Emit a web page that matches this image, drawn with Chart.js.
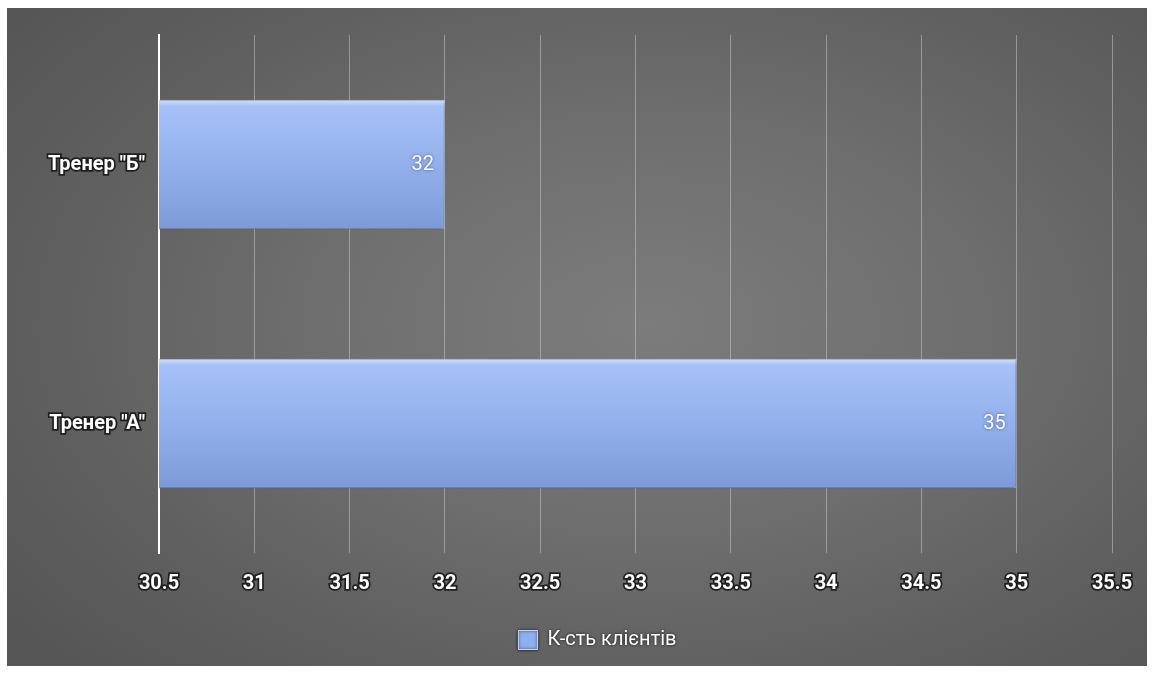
<!DOCTYPE html>
<html>
<head>
<meta charset="utf-8">
<script src="https://cdn.jsdelivr.net/npm/chart.js@4"></script>
<style>
html,body{margin:0;background:#fff;}
#wrap{position:absolute;left:7px;top:8px;width:1140px;height:658px;
  background:radial-gradient(ellipse 70% 75% at 56% 48%, #7c7c7c 0%, #6f6f6f 40%, #5f5f5f 75%, #565656 100%);}
</style>
</head>
<body>
<div id="wrap"><canvas id="c"></canvas></div>
<script>
const categories = ['Тренер "Б"', 'Тренер "А"'];
const clients = [32, 35];
const seriesName = 'К-сть клієнтів';
const xMin = 30.5, xMax = 35.5, xStep = 0.5;

const FONT = 'Roboto, "Open Sans", sans-serif';

function barFill(c){
  const chart = c.chart, y = chart.scales.y, area = chart.chartArea;
  if(!area || !y) return '#98b4ee';
  const h = (area.bottom - area.top) / categories.length * 0.5;
  const cy = y.getPixelForValue(c.dataIndex);
  const g = chart.ctx.createLinearGradient(0, cy - h/2, 0, cy + h/2);
  g.addColorStop(0, '#cfe0ff');
  g.addColorStop(0.05, '#a6c1f8');
  g.addColorStop(0.5, '#93b0ec');
  g.addColorStop(1, '#7c9bd6');
  return g;
}

// shadow under bars + value labels inside bar ends
const barDecor = {
  id: 'barDecor',
  afterLayout(chart){
    // legend sits a bit right of centre in the original
    const lg = chart.legend;
    if(lg){ lg.left += 38; lg.right += 38; }
  },
  beforeDatasetsDraw(chart){
    const ctx = chart.ctx;
    ctx.save();
    ctx.shadowColor = 'rgba(0,0,0,0.55)';
    ctx.shadowBlur = 6;
    ctx.shadowOffsetY = 2;
  },
  afterDatasetsDraw(chart){
    const ctx = chart.ctx;
    ctx.restore();
    const meta = chart.getDatasetMeta(0);
    ctx.save();
    ctx.font = '20px ' + FONT;
    ctx.fillStyle = '#ffffff';
    ctx.textAlign = 'right';
    ctx.textBaseline = 'middle';
    ctx.shadowColor = 'rgba(40,60,120,0.8)';
    ctx.shadowBlur = 3;
    meta.data.forEach((el, i) => {
      ctx.fillText(String(clients[i]), el.x - 11, el.y);
    });
    ctx.restore();
  },
  beforeDraw(chart){
    const lg = chart.legend;
    if(lg && !lg._shadowed){
      const orig = lg.draw.bind(lg);
      lg.draw = function(){
        const ctx = chart.ctx;
        ctx.save();
        ctx.shadowColor = 'rgba(0,0,0,0.9)';
        ctx.shadowBlur = 3;
        orig();
        ctx.restore();
      };
      lg._shadowed = true;
    }
  }
};

new Chart(document.getElementById('c'), {
  type: 'bar',
  data: {
    labels: categories,
    datasets: [{
      label: seriesName,
      data: clients,
      backgroundColor: barFill,
      borderColor: 'rgba(215,230,255,0.9)',
      borderWidth: 1,
      categoryPercentage: 1,
      barPercentage: 0.5
    }]
  },
  options: {
    indexAxis: 'y',
    responsive: true,
    maintainAspectRatio: false,
    animation: false,
    layout: {padding: {top: 27, right: 35, bottom: 6, left: 0}},
    scales: {
      x: {
        min: xMin, max: xMax,
        ticks: {
          stepSize: xStep,
          color: '#ffffff',
          font: {family: FONT, size: 20, weight: 'bold'},
          textStrokeColor: 'rgba(20,20,20,0.85)',
          textStrokeWidth: 3.5,
          padding: 19,
          callback: v => String(v)
        },
        grid: {color: 'rgba(220,220,220,0.45)', lineWidth: 1, drawTicks: false},
        border: {display: false},
        afterFit: s => { s.height = 67; s.paddingRight = 0; s.paddingLeft = 0; }
      },
      y: {
        ticks: {
          color: '#ffffff',
          font: {family: FONT, size: 20, weight: 'bold'},
          textStrokeColor: 'rgba(20,20,20,0.85)',
          textStrokeWidth: 3.5,
          padding: 14
        },
        grid: {display: false, drawTicks: false},
        border: {display: true, color: '#ffffff', width: 2},
        afterFit: s => { s.width = 152; }
      }
    },
    plugins: {
      tooltip: {enabled: false},
      legend: {
        position: 'bottom',
        labels: {
          color: '#ffffff',
          font: {family: FONT, size: 20},
          boxWidth: 19,
          boxHeight: 19,
          padding: 10,
          generateLabels(chart){
            const items = Chart.defaults.plugins.legend.labels.generateLabels(chart);
            items.forEach(it => { it.fillStyle = '#8fb0f0'; it.strokeStyle = '#c8dbff'; it.lineWidth = 1; });
            return items;
          }
        }
      }
    }
  },
  plugins: [barDecor]
});
</script>
</body>
</html>
